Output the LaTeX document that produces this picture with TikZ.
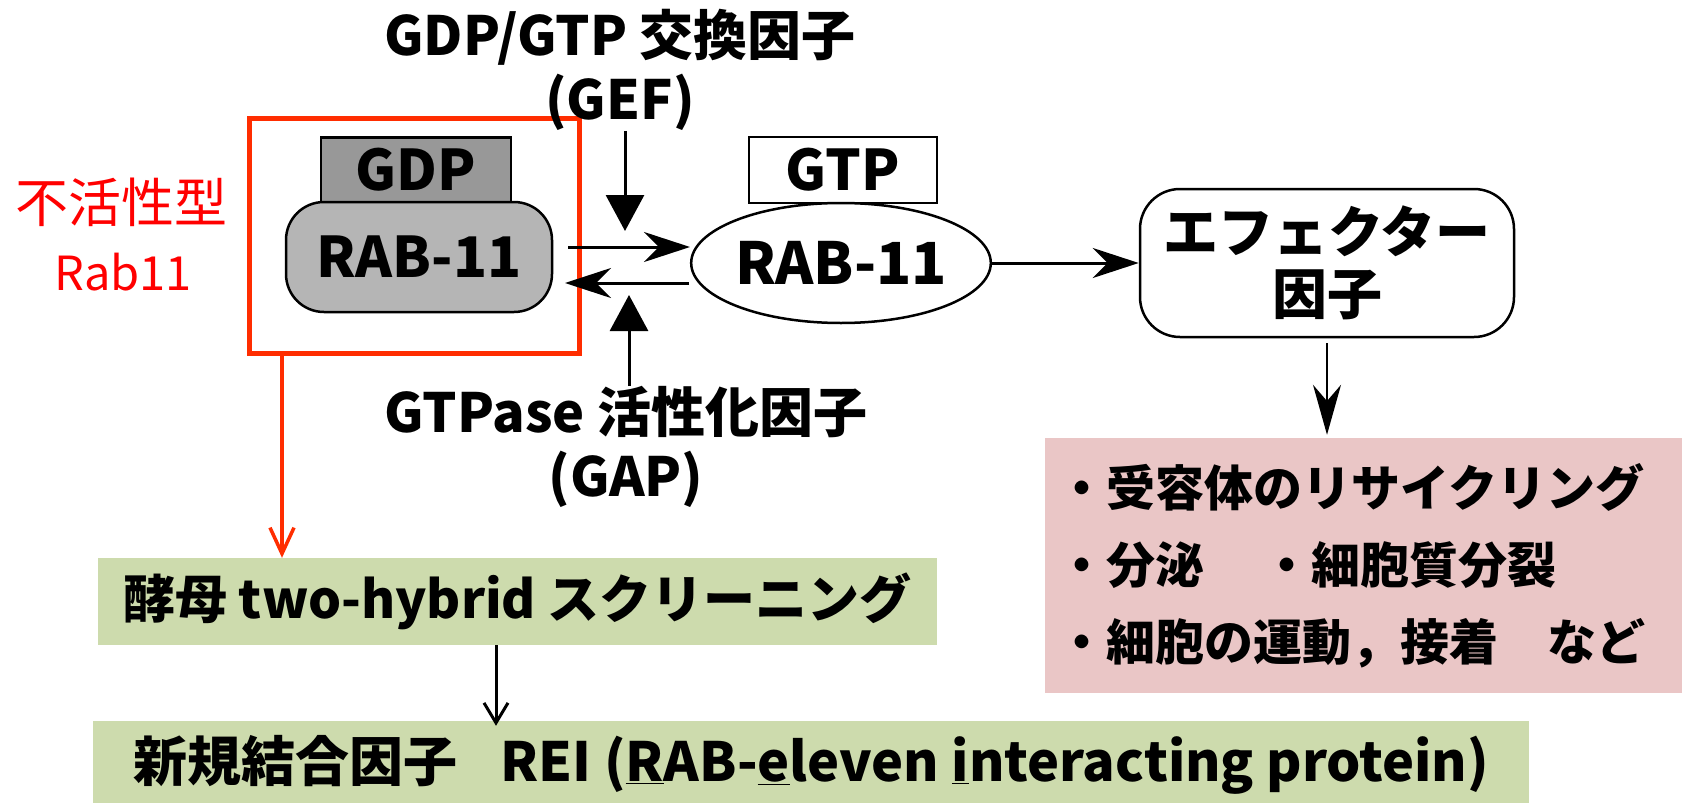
\documentclass[tikz,border=0pt]{standalone}
\usepackage{fontspec}
\newfontfamily\jp{Noto Sans CJK JP}
\usetikzlibrary{shapes.geometric,arrows.meta,positioning}
\definecolor{gdpgray}{RGB}{152,152,152}
\definecolor{rabgray}{RGB}{181,181,181}
\definecolor{boxred}{RGB}{255,45,0}
\definecolor{screengreen}{RGB}{205,219,173}
\definecolor{rolepink}{RGB}{234,198,198}
\tikzstyle{arrow} = [line width=3pt,-{Stealth[length=46pt,width=30pt]}]
\tikzstyle{bigarrow} = [line width=3pt,-{Triangle[length=36pt,width=38pt]}]
\tikzstyle{thinarrow} = [line width=3pt,-{Straight Barb[length=20pt,width=24pt]}]
\tikzstyle{redarrow} = [line width=3.5pt,color=boxred,-{Straight Barb[length=26pt,width=24pt]}]
\tikzstyle{factortext} = [font=\jp\bfseries\fontsize{54}{64}\selectfont,align=center,inner sep=0pt]
\tikzstyle{redtext} = [font=\jp\fontsize{53}{60}\selectfont,text=red,inner sep=0pt]
\tikzstyle{redframe} = [draw=boxred,line width=5pt,minimum width=330pt,minimum height=235pt]
\tikzstyle{gdpbox} = [draw,line width=2.5pt,fill=gdpgray,minimum width=190pt,minimum height=65pt,font=\jp\bfseries\fontsize{56}{64}\selectfont]
\tikzstyle{rabbox} = [draw,line width=2.5pt,fill=rabgray,rounded corners=38pt,minimum width=266pt,minimum height=110pt,font=\jp\bfseries\fontsize{56}{64}\selectfont]
\tikzstyle{gtpbox} = [draw,line width=2.5pt,fill=white,minimum width=188pt,minimum height=66pt,font=\jp\bfseries\fontsize{56}{64}\selectfont]
\tikzstyle{rabellipse} = [draw,ellipse,line width=2.5pt,minimum width=290pt,minimum height=120pt,inner sep=0pt,font=\jp\bfseries\fontsize{58}{64}\selectfont]
\tikzstyle{effectorbox} = [draw,line width=2.5pt,rounded corners=40pt,minimum width=374pt,minimum height=148pt,align=center,font=\jp\bfseries\fontsize{55}{62}\selectfont]
\tikzstyle{rolebox} = [fill=rolepink,minimum width=645pt,minimum height=255pt,text width=621pt,inner xsep=12pt,align=left,font=\jp\bfseries\fontsize{49}{77}\selectfont]
\tikzstyle{screenbox} = [fill=screengreen,minimum height=87pt,font=\jp\bfseries\fontsize{52}{62}\selectfont]

\begin{document}
\begin{tikzpicture}[x=1pt,y=-1pt]
\useasboundingbox (0,0) rectangle (1682,803);

\node[redframe] (inactive) at (414,235.5) {};
\node[gdpbox] (gdp) at (416,170) {GDP};
\node[rabbox] (rabgdp) at (419,257) {RAB-11};
\node[redtext] (inlabel) at (122,202) {不活性型};
\node[redtext,font=\jp\fontsize{47}{52}\selectfont] (inname) at (123,272) {Rab11};

\node[gtpbox] (gtp) at (843,170) {GTP};
\node[rabellipse] (rabact) at (841,263) {RAB-11};
\node[effectorbox] (effector) at (1327,263) {エフェクター\\因子};

\node[factortext] (gef) at (620,70) {GDP/GTP 交換因子\\(GEF)};
\node[factortext] (gap) at (626,447) {GTPase 活性化因子\\(GAP)};

\coordinate (geftip) at (625,231);
\coordinate (gaptip) at (629,295);
\coordinate (fwdtail) at (568,247);
\coordinate (fwdtip) at (690,247);
\coordinate (bcktail) at (689,283);
\coordinate (bcktip) at (565,283);
\draw[bigarrow] (gef.south -| geftip) -- (geftip);
\draw[bigarrow] (gap.north -| gaptip) -- (gaptip);
\draw[arrow] (fwdtail) -- (fwdtip);
\draw[arrow] (bcktail) -- (bcktip);
\draw[arrow] (rabact) -- (effector);

\node[rolebox] (roles) at (1367.5,565.5) {・受容体のリサイクリング\\・分泌\hspace{1.2em}・細胞質分裂\\・細胞の運動，接着　など};
\draw[arrow,line width=2pt,-{Stealth[length=50pt,width=28pt]},shorten <=5pt,shorten >=3pt] (effector.south) -- (effector.south |- roles.north);

\node[screenbox,minimum width=839pt] (screen) at (517.5,601.5) {酵母 two-hybrid スクリーニング};
\node[screenbox,minimum width=1436pt,minimum height=88pt,font=\jp\bfseries\fontsize{54}{62}\selectfont] (rei) at (811,765) {新規結合因子\hspace{0.8em}REI (\underline{R}AB-\underline{e}leven \underline{i}nteracting protein)};

\coordinate (redfoot) at (282,353);
\draw[redarrow] (redfoot) -- (redfoot |- screen.north);
\coordinate (screenfoot) at (496,645);
\draw[thinarrow,shorten >=-5pt] (screenfoot) -- (screenfoot |- rei.north);
\end{tikzpicture}
\end{document}
